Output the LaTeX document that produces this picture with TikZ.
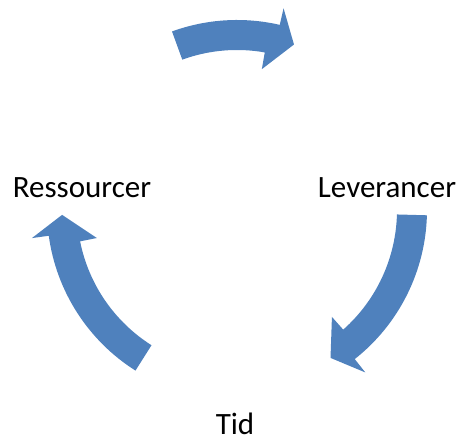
\documentclass[tikz,border=0pt]{standalone}
\usepackage{fontspec}
\setmainfont{Carlito}
\usetikzlibrary{calc}
\definecolor{cycleblue}{RGB}{79,129,189}

\begin{document}
\begin{tikzpicture}[
x=1pt, y=1pt,
   lbl/.style = {anchor=base, inner sep=0pt, text=black,
                 font=\fontsize{31}{37}\selectfont},
   arr/.style = {fill=cycleblue, draw=none},
                        ]
\useasboundingbox (0,0) rectangle (465,443);
\coordinate (c) at (237,233);                   % centre of the cycle
\node[lbl] (res) at (82,245)  {Ressourcer};
\node[lbl] (lev) at (387,245) {Leverancer};
\node[lbl] (tid) at (235,8)   {Tid};
% tail / outer barb / inner barb / tip
\foreach \a/\bo/\bi/\t in {110/77/80/71, -1.6/-51.7/-48.4/-57.7,
                           237.7/187.8/191.3/181.6}
    \fill[arr] ($(c)+(\a:190)$) arc[start angle=\a, end angle=\bo, radius=190]
        -- ($(c)+(\bo:207)$) -- ($(c)+(\t:175)$) -- ($(c)+(\bi:143)$)
        -- ($(c)+(\bi:160)$) arc[start angle=\bi, end angle=\a, radius=160]
        -- cycle;
\end{tikzpicture}
\end{document}
